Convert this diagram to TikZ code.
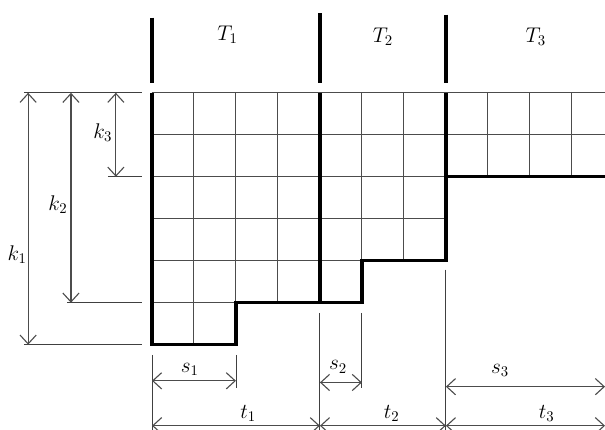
\documentclass[tikz,border=0pt]{standalone}
\usetikzlibrary{arrows.meta}

\tikzset{
    cell/.style={line width=0.7pt, black!70},
    bold/.style={line width=2.3pt, black},
    ext/.style={line width=0.6pt, black!75},
    dimarrow/.style={line width=0.75pt, black!70, {Straight Barb[length=6pt,width=11pt]}-{Straight Barb[length=6pt,width=11pt]}},
    lbl/.style={font=\Large, inner sep=1pt}
}

\begin{document}
\begin{tikzpicture}
    \useasboundingbox (-3.62,2.21) rectangle (10.79,-8.02);

    % Grid of cells
    \draw[cell] (0,-6) grid (2,0);
    \draw[cell] (0,-5) grid (5,0);
    \draw[cell] (0,-4) grid (7,0);
    \draw[cell] (7,-2) grid (10.79,0);

    % Step outline
    \draw[bold] (0,0) -- (0,-6) -- (2,-6) -- (2,-5) -- (5,-5) -- (5,-4) -- (7,-4) -- (7,0);
    \draw[bold] (4,0) -- (4,-5);
    \draw[bold] (7,-2) -- (10.79,-2);

    % Period dividers and labels
    \draw[bold] (0,1.79) -- (0,0.24);
    \draw[bold] (4,1.90) -- (4,0.24);
    \draw[bold] (7,1.86) -- (7,0.24);
    \node[lbl] (T1) at (1.80,1.38) {$T_1$};
    \node[lbl] (T2) at (5.50,1.34) {$T_2$};
    \node[lbl] (T3) at (9.14,1.34) {$T_3$};

    % Left extension lines
    \draw[ext] (-3.05,0) -- (-0.24,0);
    \draw[ext] (-1.05,-2) -- (-0.24,-2);
    \draw[ext] (-2.02,-5) -- (-0.24,-5);
    \draw[ext] (-3.05,-6) -- (-0.24,-6);

    % Heights k
    \coordinate (k1a) at (-2.95,0);  \coordinate (k1b) at (-2.95,-6);
    \coordinate (k2a) at (-1.93,0);  \coordinate (k2b) at (-1.93,-5);
    \coordinate (k3a) at (-0.86,0);  \coordinate (k3b) at (-0.86,-2);
    \draw[dimarrow] (k1a) -- (k1b);
    \draw[dimarrow] (k2a) -- (k2b);
    \draw[dimarrow] (k3a) -- (k3b);
    \node[lbl] (k1) at (-3.21,-3.86) {$k_1$};
    \node[lbl] (k2) at (-2.24,-2.67) {$k_2$};
    \node[lbl] (k3) at (-1.17,-0.95) {$k_3$};

    % Bottom extension lines
    \draw[ext] (0,-6.24) -- (0,-8.02);
    \draw[ext] (2,-6.24) -- (2,-7.02);
    \draw[ext] (4,-5.24) -- (4,-8.02);
    \draw[ext] (5,-5.24) -- (5,-7.02);
    \draw[ext] (7,-4.21) -- (7,-8.02);

    % Widths s
    \coordinate (s1a) at (0,-6.86);  \coordinate (s1b) at (2,-6.86);
    \coordinate (s2a) at (4,-6.90);  \coordinate (s2b) at (5,-6.90);
    \coordinate (s3a) at (7,-7.00);  \coordinate (s3b) at (10.79,-7.00);
    \draw[dimarrow] (s1a) -- (s1b);
    \draw[dimarrow] (s2a) -- (s2b);
    \draw[dimarrow] (s3a) -- (s3b);
    \node[lbl] (s1) at (0.90,-6.58) {$s_1$};
    \node[lbl] (s2) at (4.43,-6.53) {$s_2$};
    \node[lbl] (s3) at (8.29,-6.62) {$s_3$};

    % Widths t
    \coordinate (t1a) at (0,-7.93);  \coordinate (t1b) at (4,-7.93);
    \coordinate (t2a) at (4,-7.93);  \coordinate (t2b) at (7,-7.93);
    \coordinate (t3a) at (7,-7.93);  \coordinate (t3b) at (10.79,-7.93);
    \draw[dimarrow] (t1a) -- (t1b);
    \draw[dimarrow] (t2a) -- (t2b);
    \draw[dimarrow] (t3a) -- (t3b);
    \node[lbl] (t1) at (2.29,-7.63) {$t_1$};
    \node[lbl] (t2) at (5.71,-7.63) {$t_2$};
    \node[lbl] (t3) at (9.40,-7.63) {$t_3$};
\end{tikzpicture}
\end{document}
